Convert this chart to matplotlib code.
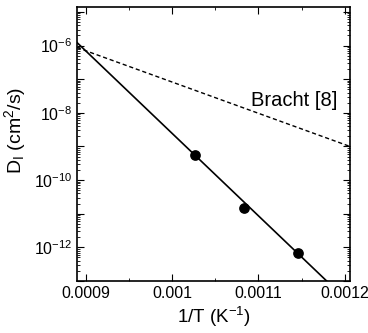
import matplotlib
matplotlib.use("Agg")
import matplotlib.pyplot as plt
import matplotlib.ticker as ticker
import numpy as np

plt.rcParams['font.family'] = ['Liberation Sans', 'DejaVu Sans']
plt.rcParams['mathtext.fontset'] = 'custom'
plt.rcParams['mathtext.rm'] = 'Liberation Sans'
plt.rcParams['mathtext.it'] = 'Liberation Sans:italic'

# measured points
inv_T = [0.001027, 0.001083, 0.001146]
D_meas = [5.6e-10, 1.45e-11, 6.6e-13]

# fit line (end points, straight in semilog)
fit_x = [0.00089, 0.001179]
fit_D = [1.23e-6, 1.0e-13]

# Bracht [8]
bracht_x = [0.00089, 0.001206]
bracht_D = [8.7e-7, 1.0e-9]

fig = plt.figure(figsize=(3.68, 3.33), dpi=100)
ax = fig.add_axes([77/368, 52/333, 273/368, 274/333])

ax.semilogy(fit_x, fit_D, color='black', lw=1.2)
ax.semilogy(bracht_x, bracht_D, color='black', lw=1.0, ls=(0, (3, 2)))
ax.plot(inv_T, D_meas, 'o', color='black', ms=6.7)

ax.set_xlim(0.00089, 0.001206)
ax.set_ylim(1e-13, 1.4e-5)

ax.xaxis.set_major_locator(ticker.FixedLocator([0.0009, 0.001, 0.0011, 0.0012]))
ax.xaxis.set_major_formatter(ticker.FixedFormatter(['0.0009', '0.001', '0.0011', '0.0012']))
ax.xaxis.set_minor_locator(ticker.MultipleLocator(0.00005))

ax.yaxis.set_major_locator(ticker.LogLocator(base=10, numticks=20))
ax.yaxis.set_minor_locator(ticker.LogLocator(base=10, subs=np.arange(2, 10), numticks=20))
ax.yaxis.set_minor_formatter(ticker.NullFormatter())
ax.yaxis.set_major_formatter(ticker.FuncFormatter(
    lambda v, p: r'$10^{%d}$' % round(np.log10(v)) if round(np.log10(v)) % 2 == 0 else ''))

ax.tick_params(which='both', direction='in', top=True, right=True, labelsize=11.5)
ax.tick_params(which='major', length=5)
ax.tick_params(which='minor', length=2.5)
for s in ax.spines.values():
    s.set_linewidth(1.2)

ax.text(0.001141, 2.3e-8, 'Bracht [8]', fontsize=14.5, ha='center', va='center')

ax.set_xlabel(r'1/T (K$^{-1}$)', fontsize=13.5, labelpad=3)
ax.set_ylabel(r'D$_\mathregular{I}$ (cm$^2$/s)', fontsize=14)
ax.yaxis.set_label_coords(-0.18, 0.55)

fig.savefig('out.png', dpi=100)
